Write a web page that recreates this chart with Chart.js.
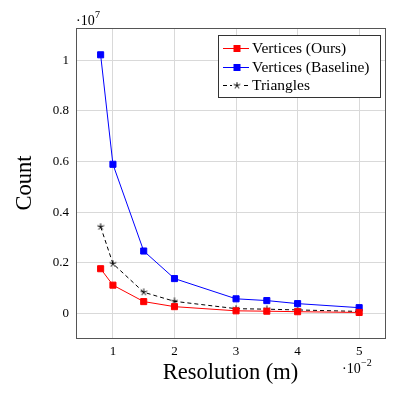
<!DOCTYPE html>
<html>
<head>
<meta charset="utf-8">
<script src="https://cdn.jsdelivr.net/npm/chart.js@4/dist/chart.umd.min.js"></script>
<style>
html,body{margin:0;padding:0;background:#fff;}
#wrap{width:398px;height:404px;position:relative;}
</style>
</head>
<body>
<div id="wrap"><canvas id="c" width="398" height="404"></canvas></div>
<script>
// Data (resolution in metres, counts as absolute numbers)
const resolution = [0.008, 0.01, 0.015, 0.02, 0.03, 0.035, 0.04, 0.05];
const verticesOurs = [1760000, 1110000, 460000, 260000, 95000, 80000, 60000, 30000];
const verticesBaseline = [10220000, 5890000, 2460000, 1370000, 570000, 500000, 380000, 220000];
const triangles = [3420000, 1960000, 830000, 470000, 180000, 160000, 130000, 70000];
const xTickValues = [0.01, 0.02, 0.03, 0.04, 0.05];
const yTickValues = [0, 2000000, 4000000, 6000000, 8000000, 10000000];
const seriesLabels = ['Vertices (Ours)', 'Vertices (Baseline)', 'Triangles'];
const xTitle = 'Resolution (m)';
const yTitle = 'Count';

const FONT = '"Liberation Serif", "DejaVu Serif", serif';

// 5-armed star marker like pgfplots "star"
function makeStar(size) {
  const c = document.createElement('canvas');
  c.width = size; c.height = size;
  const g = c.getContext('2d');
  g.strokeStyle = '#000';
  g.lineWidth = 1;
  const cx = size / 2, cy = size / 2, r = size / 2 - 0.5;
  g.beginPath();
  for (let i = 0; i < 5; i++) {
    const a = -Math.PI / 2 + i * 2 * Math.PI / 5;
    g.moveTo(cx, cy);
    g.lineTo(cx + r * Math.cos(a), cy + r * Math.sin(a));
  }
  g.stroke();
  return c;
}
const starImg = makeStar(8);

const toXY = (ys) => resolution.map((x, i) => ({x: x, y: ys[i]}));

const overlay = {
  id: 'overlay',
  afterDraw(chart) {
    const ctx = chart.ctx;
    const a = chart.chartArea;
    ctx.save();
    // frame
    ctx.strokeStyle = '#555';
    ctx.lineWidth = 1;
    ctx.strokeRect(Math.round(a.left) + 0.5, Math.round(a.top) + 0.5, Math.round(a.right - a.left), Math.round(a.bottom - a.top));

    ctx.fillStyle = '#000';
    // axis titles
    ctx.font = '22.5px ' + FONT;
    ctx.textAlign = 'center';
    ctx.textBaseline = 'middle';
    ctx.fillText(xTitle, (a.left + a.right) / 2, 373);
    ctx.save();
    ctx.translate(25, (a.top + a.bottom) / 2);
    ctx.rotate(-Math.PI / 2);
    ctx.fillText(yTitle, 0, 0);
    ctx.restore();

    // exponent labels
    ctx.textAlign = 'left';
    ctx.textBaseline = 'alphabetic';
    ctx.font = '14px ' + FONT;
    ctx.fillText('\u00b710', 76, 25);
    ctx.font = '10px ' + FONT;
    ctx.fillText('7', 95, 18);
    ctx.font = '14px ' + FONT;
    ctx.fillText('\u00b710', 342, 373);
    ctx.font = '10px ' + FONT;
    ctx.fillText('\u22122', 361, 366);

    // legend
    const lx = 218.5, ly = 35.5, lw = 162, lh = 62;
    ctx.fillStyle = '#fff';
    ctx.fillRect(lx, ly, lw, lh);
    ctx.strokeStyle = '#333';
    ctx.lineWidth = 1;
    ctx.strokeRect(lx, ly, lw, lh);
    const rows = [48, 67, 85];
    chart.data.datasets.forEach((ds, i) => {
      const y = rows[i];
      ctx.save();
      ctx.strokeStyle = ds.borderColor;
      ctx.lineWidth = 1;
      if (ds.borderDash) ctx.setLineDash(ds.borderDash);
      ctx.beginPath();
      ctx.moveTo(223, y + 0.5);
      ctx.lineTo(249, y + 0.5);
      ctx.stroke();
      ctx.restore();
      if (ds.pointStyle === 'rect') {
        ctx.fillStyle = ds.pointBackgroundColor;
        ctx.fillRect(233.5, y - 3, 7, 7);
      } else {
        ctx.fillStyle = '#fff';
        ctx.fillRect(232, y - 4, 10, 9);
        ctx.drawImage(starImg, 233, y - 3.5);
      }
      ctx.fillStyle = '#000';
      ctx.font = '15.5px ' + FONT;
      ctx.textAlign = 'left';
      ctx.textBaseline = 'middle';
      ctx.fillText(ds.label, 252, y + 1);
    });
    ctx.restore();
  }
};

new Chart(document.getElementById('c'), {
  type: 'line',
  data: {
    datasets: [
      {
        label: seriesLabels[0], data: toXY(verticesOurs),
        borderColor: '#ff0000', backgroundColor: '#ff0000',
        pointBackgroundColor: '#ff0000', pointBorderColor: '#ff0000',
        pointStyle: 'rect', pointRadius: 4.3, pointBorderWidth: 1, borderWidth: 1, tension: 0
      },
      {
        label: seriesLabels[1], data: toXY(verticesBaseline),
        borderColor: '#0000ff', backgroundColor: '#0000ff',
        pointBackgroundColor: '#0000ff', pointBorderColor: '#0000ff',
        pointStyle: 'rect', pointRadius: 4.3, pointBorderWidth: 1, borderWidth: 1, tension: 0
      },
      {
        label: seriesLabels[2], data: toXY(triangles),
        borderColor: '#000000', backgroundColor: '#000000',
        borderDash: [4, 3],
        pointStyle: starImg, pointRadius: 4, borderWidth: 1, tension: 0
      }
    ]
  },
  options: {
    responsive: false,
    animation: false,
    devicePixelRatio: 1,
    layout: {padding: {top: 28, right: 13, left: 0, bottom: 0}},
    plugins: {legend: {display: false}, tooltip: {enabled: false}},
    scales: {
      x: {
        type: 'linear', min: 0.004, max: 0.0542,
        afterBuildTicks: (s) => { s.ticks = xTickValues.map(v => ({value: v})); },
        afterFit: (s) => { s.height = 66; },
        grid: {color: '#d9d9d9', lineWidth: 1, drawTicks: false},
        border: {display: false},
        ticks: {
          padding: 6, color: '#000', font: {family: FONT, size: 13},
          maxRotation: 0, autoSkip: false,
          callback: (v) => String(Math.round(v * 100))
        }
      },
      y: {
        type: 'linear', min: -980000, max: 11280000,
        afterBuildTicks: (s) => { s.ticks = yTickValues.map(v => ({value: v})); },
        afterFit: (s) => { s.width = 76; },
        grid: {color: '#d9d9d9', lineWidth: 1, drawTicks: false},
        border: {display: false},
        ticks: {
          padding: 7, color: '#000', font: {family: FONT, size: 13},
          callback: (v) => String(Math.round(v / 1e6) / 10)
        }
      }
    }
  },
  plugins: [overlay]
});
</script>
</body>
</html>
